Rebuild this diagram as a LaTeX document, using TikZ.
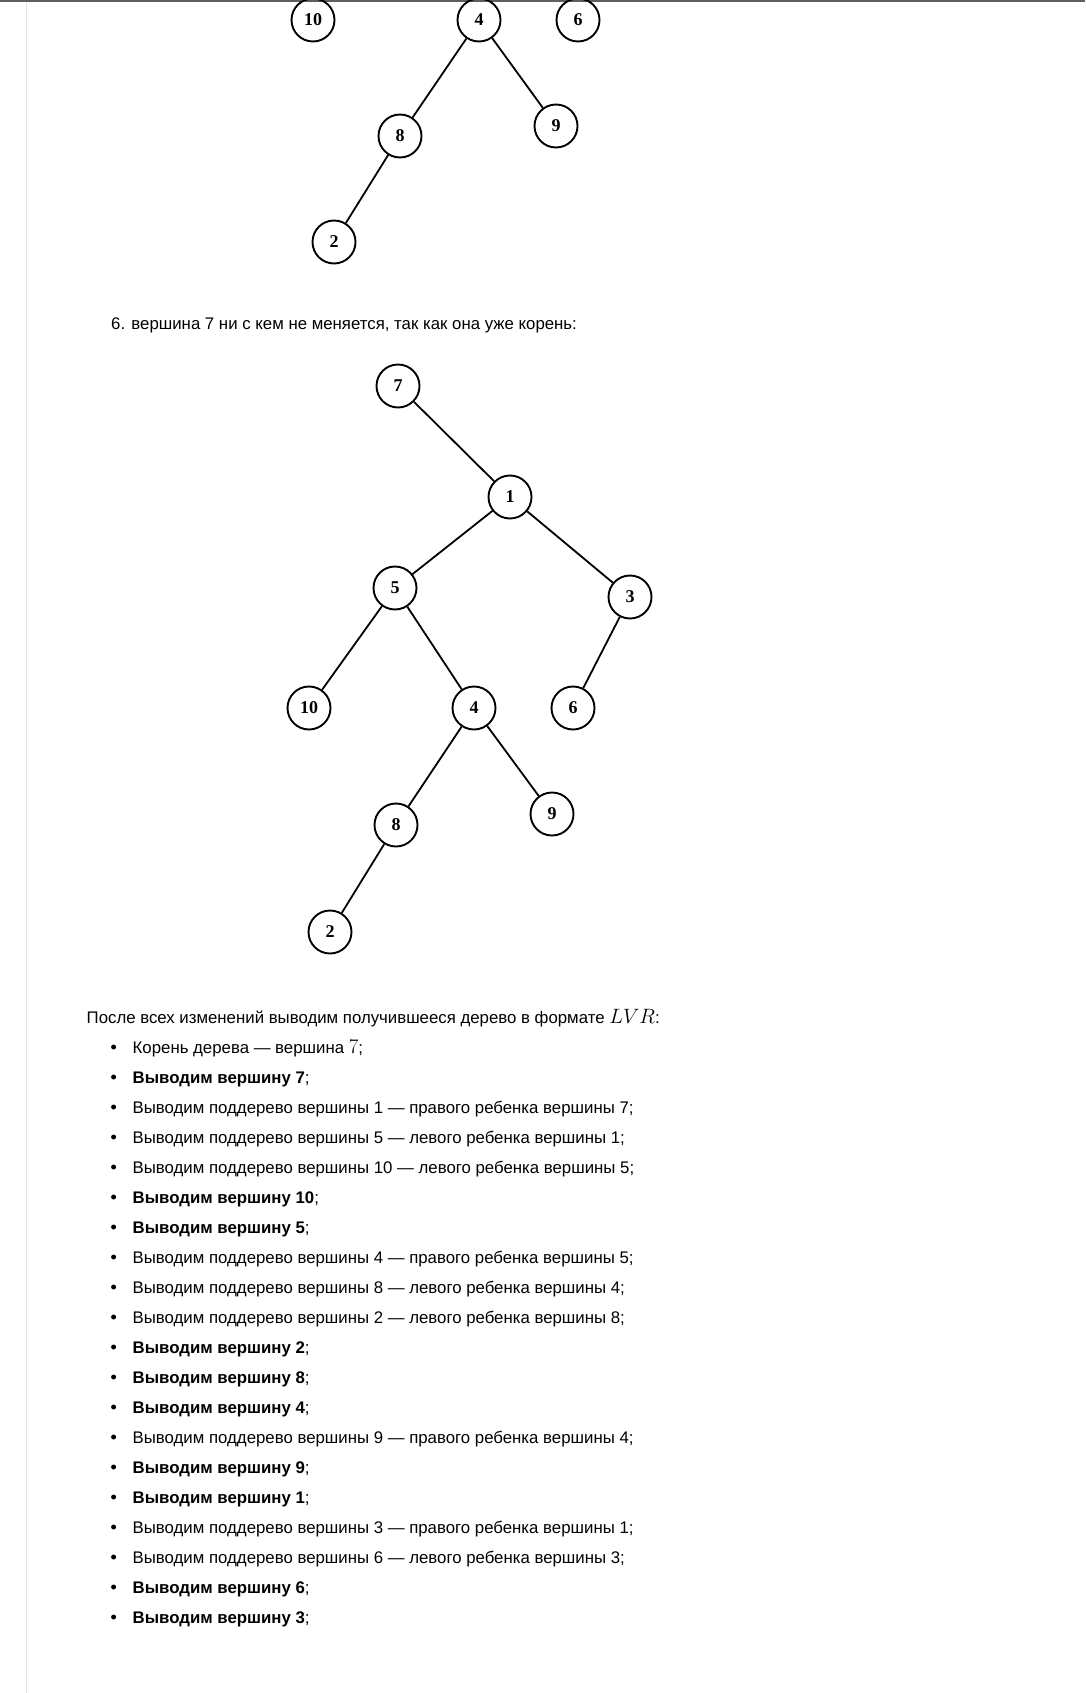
\documentclass[tikz,border=0pt]{standalone}
\usepackage{fontspec}
\setmainfont{Liberation Sans}
\newfontfamily\nodefont{Liberation Serif}
\definecolor{topbar}{HTML}{5B5F63}
\definecolor{sideline}{HTML}{E6E6E6}
\begin{document}
\begin{tikzpicture}[x=1pt,y=-1pt,
  vert/.style={circle,draw=black,line width=1.9pt,minimum size=43pt,inner sep=0pt,font=\nodefont\bfseries\fontsize{18}{18}\selectfont},
  edge/.style={line width=1.8pt},
  txt/.style={anchor=base west,inner sep=0pt,font=\fontsize{16.8}{19}\selectfont},
  bul/.style={circle,fill=black,inner sep=0pt,minimum size=5pt}]
\useasboundingbox (0,0) rectangle (1085,1693);
\fill[white] (0,0) rectangle (1085,1693);
\fill[topbar] (0,0) rectangle (1085,2);
\draw[sideline,line width=1.5pt] (26.5,2) -- (26.5,1693);
% top partial tree
\node[vert] (a10) at (313,20) {10};
\node[vert] (a4) at (479,20) {4};
\node[vert] (a6) at (578,20) {6};
\node[vert] (a8) at (400,136) {8};
\node[vert] (a9) at (556,126) {9};
\node[vert] (a2) at (334,242) {2};
\draw[edge] (a4) -- (a8);
\draw[edge] (a4) -- (a9);
\draw[edge] (a8) -- (a2);
% caption
\node[txt] (cap) at (111,330) {6. вершина 7 ни с кем не меняется, так как она уже корень:};
% second tree
\node[vert] (b7) at (398,386) {7};
\node[vert] (b1) at (510,497) {1};
\node[vert] (b5) at (395,588) {5};
\node[vert] (b3) at (630,597) {3};
\node[vert] (b10) at (309,708) {10};
\node[vert] (b4) at (474,708) {4};
\node[vert] (b6) at (573,708) {6};
\node[vert] (b8) at (396,825) {8};
\node[vert] (b9) at (552,814) {9};
\node[vert] (b2) at (330,932) {2};
\draw[edge] (b7) -- (b1);
\draw[edge] (b1) -- (b5);
\draw[edge] (b1) -- (b3);
\draw[edge] (b5) -- (b10);
\draw[edge] (b5) -- (b4);
\draw[edge] (b3) -- (b6);
\draw[edge] (b4) -- (b8);
\draw[edge] (b4) -- (b9);
\draw[edge] (b8) -- (b2);
% heading
\node[txt] (head) at (86.5,1023) {После всех изменений выводим получившееся дерево в формате {\fontsize{20}{19}\selectfont$LVR$}:};
% list
\foreach \k/\t in {
 0/{Корень дерева — вершина {\fontsize{20}{19}\selectfont$7$};},
 1/{\textbf{Выводим вершину 7};},
 2/{Выводим поддерево вершины 1 — правого ребенка вершины 7;},
 3/{Выводим поддерево вершины 5 — левого ребенка вершины 1;},
 4/{Выводим поддерево вершины 10 — левого ребенка вершины 5;},
 5/{\textbf{Выводим вершину 10};},
 6/{\textbf{Выводим вершину 5};},
 7/{Выводим поддерево вершины 4 — правого ребенка вершины 5;},
 8/{Выводим поддерево вершины 8 — левого ребенка вершины 4;},
 9/{Выводим поддерево вершины 2 — левого ребенка вершины 8;},
 10/{\textbf{Выводим вершину 2};},
 11/{\textbf{Выводим вершину 8};},
 12/{\textbf{Выводим вершину 4};},
 13/{Выводим поддерево вершины 9 — правого ребенка вершины 4;},
 14/{\textbf{Выводим вершину 9};},
 15/{\textbf{Выводим вершину 1};},
 16/{Выводим поддерево вершины 3 — правого ребенка вершины 1;},
 17/{Выводим поддерево вершины 6 — левого ребенка вершины 3;},
 18/{\textbf{Выводим вершину 6};},
 19/{\textbf{Выводим вершину 3};}} {
  \node[bul] (d\k) at (113.6,1047+30*\k) {};
  \node[txt] (l\k) at (132.5,1053+30*\k) {\t};
}
\end{tikzpicture}
\end{document}
